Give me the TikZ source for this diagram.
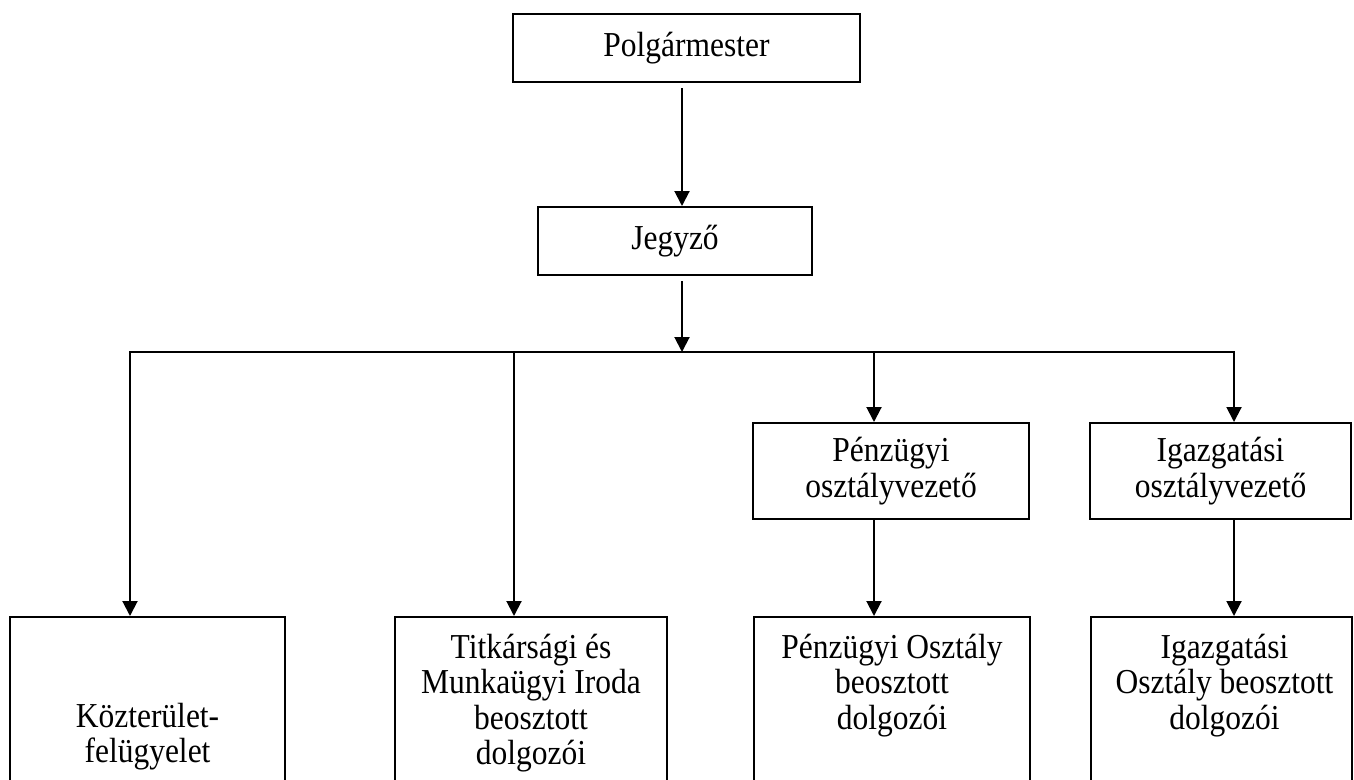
\documentclass[tikz,border=0pt]{standalone}
\usepackage{fontspec}
\setmainfont{Liberation Serif}[FakeStretch=0.9]
\usetikzlibrary{arrows.meta,calc}
\newcommand\myfirstline{\rule{0pt}{26pt}}
\begin{document}
\begin{tikzpicture}[x=1pt,y=1pt,
  box/.style={draw, line width=2pt, inner sep=0pt, align=center, font=\fontsize{35}{36}\selectfont},
  lbl/.style={inner sep=0pt, align=center, font=\fontsize{35}{35.5}\selectfont, anchor=north},
  arr/.style={line width=2pt, -{Triangle[width=15pt,length=15pt]}},
  biarr/.style={line width=2pt, {Triangle[width=15pt,length=15pt]}-{Triangle[width=15pt,length=15pt]}}]
\useasboundingbox (0,0) rectangle (1354,-779);
\clip (0,0) rectangle (1354,-779);
\fill[white] (0,0) rectangle (1354,-779);

\node[box, minimum width=347pt, minimum height=68pt] (P) at (686.5,-48) {Polgármester};
\node[box, minimum width=274pt, minimum height=68pt] (J) at (675,-241) {Jegyző};
\node[box, minimum width=276pt, minimum height=96pt] (PO) at (891,-471) {Pénzügyi\\osztályvezető};
\node[box, minimum width=261pt, minimum height=96pt] (IO) at (1220.5,-471) {Igazgatási\\osztályvezető};

\node[box, minimum width=275pt, minimum height=200pt, anchor=north west] (K) at (9,-616) {};
\node[box, minimum width=272pt, minimum height=200pt, anchor=north west] (T) at (394,-616) {};
\node[box, minimum width=276pt, minimum height=200pt, anchor=north west] (PB) at (753,-616) {};
\node[box, minimum width=261pt, minimum height=200pt, anchor=north west] (IB) at (1090,-616) {};

\node[lbl] (Kt) at ($(K.north)+(0,-85)$) {\myfirstline Közterület-\\felügyelet};
\node[lbl] (Tt) at ($(T.north)+(0,-16)$) {\myfirstline Titkársági és\\Munkaügyi Iroda\\beosztott\\dolgozói};
\node[lbl] (PBt) at ($(PB.north)+(0,-16)$) {\myfirstline Pénzügyi Osztály\\beosztott\\dolgozói};
\node[lbl] (IBt) at ($(IB.north)+(3,-16)$) {\myfirstline Igazgatási\\Osztály beosztott\\dolgozói};

\coordinate (xa) at (682,0);
\coordinate (busL) at (130,-352);
\coordinate (busM) at (682,-352);
\coordinate (busT) at (514,-352);
\coordinate (busP) at (874,-352);
\coordinate (busR) at (1234,-352);

\draw[arr] ($(P.south -| xa)+(0,-5)$) -- (J.north -| xa);
\draw[arr] ($(J.south -| xa)+(0,-5)$) -- (busM);
\draw[biarr] (K.north -| busL) -- (busL) -- (busR) -- (IO.north -| busR);
\draw[arr] (busT) -- (T.north -| busT);
\draw[arr] (busP) -- (PO.north -| busP);
\draw[arr] (PO.south -| busP) -- (PB.north -| busP);
\draw[arr] (IO.south -| busR) -- (IB.north -| busR);
\end{tikzpicture}
\end{document}
